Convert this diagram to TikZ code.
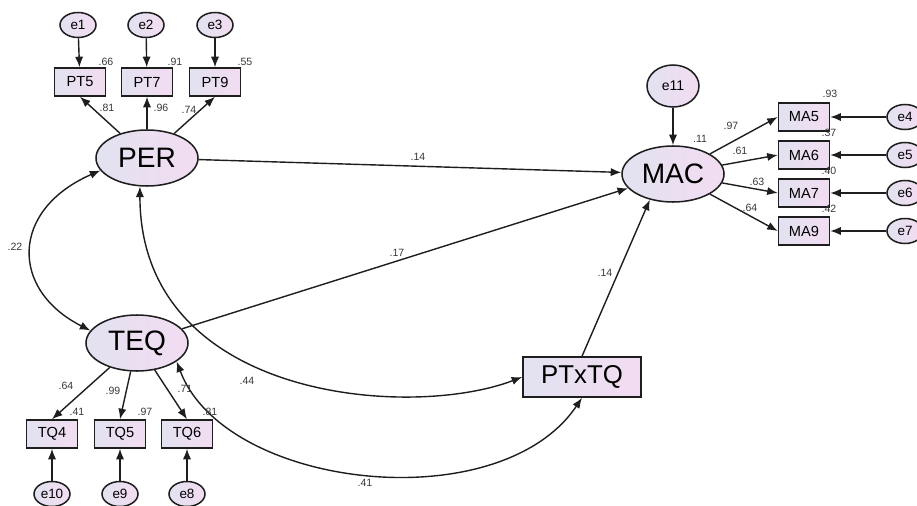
\documentclass[tikz,border=0pt]{standalone}
\usepackage{fontspec}
\setmainfont{Liberation Sans}
\usetikzlibrary{shapes.geometric, arrows.meta}

\definecolor{fillL}{RGB}{226,226,240}
\definecolor{fillR}{RGB}{243,220,241}
\definecolor{lineC}{RGB}{30,30,30}
\definecolor{coefC}{RGB}{55,55,55}

\tikzset{
  shadefill/.style={left color=fillL, right color=fillR},
  latent/.style={ellipse, draw=lineC, line width=1.3pt, shadefill, minimum width=3.06cm, minimum height=1.68cm, inner sep=0pt, font=\fontsize{24}{28}\selectfont},
  obs/.style={rectangle, draw=lineC, line width=1.3pt, shadefill, minimum width=1.53cm, minimum height=0.84cm, inner sep=0pt, font=\fontsize{12.5}{14}\selectfont},
  err/.style={ellipse, draw=lineC, line width=1.3pt, shadefill, minimum width=1.08cm, minimum height=0.75cm, inner sep=0pt, font=\fontsize{11.5}{13}\selectfont},
  coef/.style={text=coefC, inner sep=0pt, font=\fontsize{9}{10}\selectfont},
  link/.style={draw=lineC, line width=1.2pt, -{Latex[length=9pt,width=7pt]}},
  corr/.style={draw=lineC, line width=1.2pt, {Latex[length=9pt,width=7pt]}-{Latex[length=9pt,width=7pt]}}
}

\begin{document}
\begin{tikzpicture}[x=0.03cm, y=-0.03cm]
  \clip (0,0) rectangle (917,506);

  % PER block
  \node[err] (e1) at (78,25) {e1};
  \node[err] (e2) at (146,25) {e2};
  \node[err] (e3) at (215,25) {e3};
  \node[obs] (PT5) at (80,82) {PT5};
  \node[obs] (PT7) at (147,82) {PT7};
  \node[obs] (PT9) at (215,82) {PT9};
  \node[latent] (PER) at (147,158) {PER};

  % TEQ block
  \node[latent] (TEQ) at (137,343) {TEQ};
  \node[obs] (TQ4) at (52,434) {TQ4};
  \node[obs] (TQ5) at (120,434) {TQ5};
  \node[obs] (TQ6) at (187,434) {TQ6};
  \node[err] (e10) at (52,494) {e10};
  \node[err] (e9) at (120,494) {e9};
  \node[err] (e8) at (187,494) {e8};

  % MAC block
  \node[latent] (MAC) at (673,174) {MAC};
  \node[err, minimum width=1.56cm, minimum height=1.26cm, font=\fontsize{12}{14}\selectfont] (e11) at (673,86) {e11};
  \node[obs] (MA5) at (804,117) {MA5};
  \node[obs] (MA6) at (804,155) {MA6};
  \node[obs] (MA7) at (804,193) {MA7};
  \node[obs] (MA9) at (804,231) {MA9};
  \node[err] (e4) at (905,117) {e4};
  \node[err] (e5) at (905,155) {e5};
  \node[err] (e6) at (905,193) {e6};
  \node[err] (e7) at (905,231) {e7};

  % interaction
  \node[obs, minimum width=3.54cm, minimum height=1.2cm, font=\fontsize{22}{26}\selectfont] (PTxTQ) at (582,377) {PTxTQ};

  % measurement paths
  \draw[link] (e1) -- (PT5);
  \draw[link] (e2) -- (PT7);
  \draw[link] (e3) -- (PT9);
  \draw[link] (PER) -- (PT5.south);
  \draw[link] (PER) -- (PT7);
  \draw[link] (PER) -- (PT9.south);
  \draw[link] (TEQ) -- (TQ4.north);
  \draw[link] (TEQ) -- (TQ5.north);
  \draw[link] (TEQ) -- (TQ6.north);
  \draw[link] (e10) -- (TQ4);
  \draw[link] (e9) -- (TQ5);
  \draw[link] (e8) -- (TQ6);
  \draw[link] (e11) -- (MAC);
  \draw[link] (MAC) -- (MA5.west);
  \draw[link] (MAC) -- (MA6.west);
  \draw[link] (MAC) -- (MA7.west);
  \draw[link] (MAC) -- (MA9.west);
  \draw[link] (e4) -- (MA5);
  \draw[link] (e5) -- (MA6);
  \draw[link] (e6) -- (MA7);
  \draw[link] (e7) -- (MA9);

  % structural paths
  \draw[link] (PER) -- (MAC);
  \draw[link] (TEQ) -- (MAC);
  \draw[link] (PTxTQ.north) -- (MAC.228);
  \draw[corr] (PER.195) .. controls (10,210) and (10,290) .. (TEQ.165);
  \draw[corr] (PER.256) .. controls (140,400) and (410,420) .. (PTxTQ.west);
  \draw[corr] (TEQ.335) .. controls (225,490) and (500,520) .. (PTxTQ.south);

  % estimates
  \node[coef] (rPT5) at (106,62) {.66};
  \node[coef] (rPT7) at (175,62) {.91};
  \node[coef] (rPT9) at (245,62) {.55};
  \node[coef] (wPT5) at (107,108) {.81};
  \node[coef] (wPT7) at (161,108) {.96};
  \node[coef] (wPT9) at (189,110) {.74};
  \node[coef] (cPT) at (15,247) {.22};
  \node[coef] (bPER) at (418,157) {.14};
  \node[coef] (bTEQ) at (397,253) {.17};
  \node[coef] (bINT) at (605,273) {.14};
  \node[coef] (cPI) at (247,381) {.44};
  \node[coef] (cTI) at (365,483) {.41};
  \node[coef] (wTQ4) at (66,386) {.64};
  \node[coef] (rTQ4) at (77,412) {.41};
  \node[coef] (wTQ5) at (113,391) {.99};
  \node[coef] (rTQ5) at (145,412) {.97};
  \node[coef] (wTQ6) at (185,389) {.71};
  \node[coef] (rTQ6) at (210,412) {.81};
  \node[coef] (rMAC) at (700,139) {.11};
  \node[coef] (wMA5) at (731,126) {.97};
  \node[coef] (rMA5) at (830,94) {.93};
  \node[coef] (wMA6) at (740,151) {.61};
  \node[coef] (rMA6) at (829,133) {.37};
  \node[coef] (wMA7) at (757,182) {.63};
  \node[coef] (rMA7) at (829,171) {.40};
  \node[coef] (wMA9) at (750,208) {.64};
  \node[coef] (rMA9) at (829,209) {.42};
\end{tikzpicture}
\end{document}
